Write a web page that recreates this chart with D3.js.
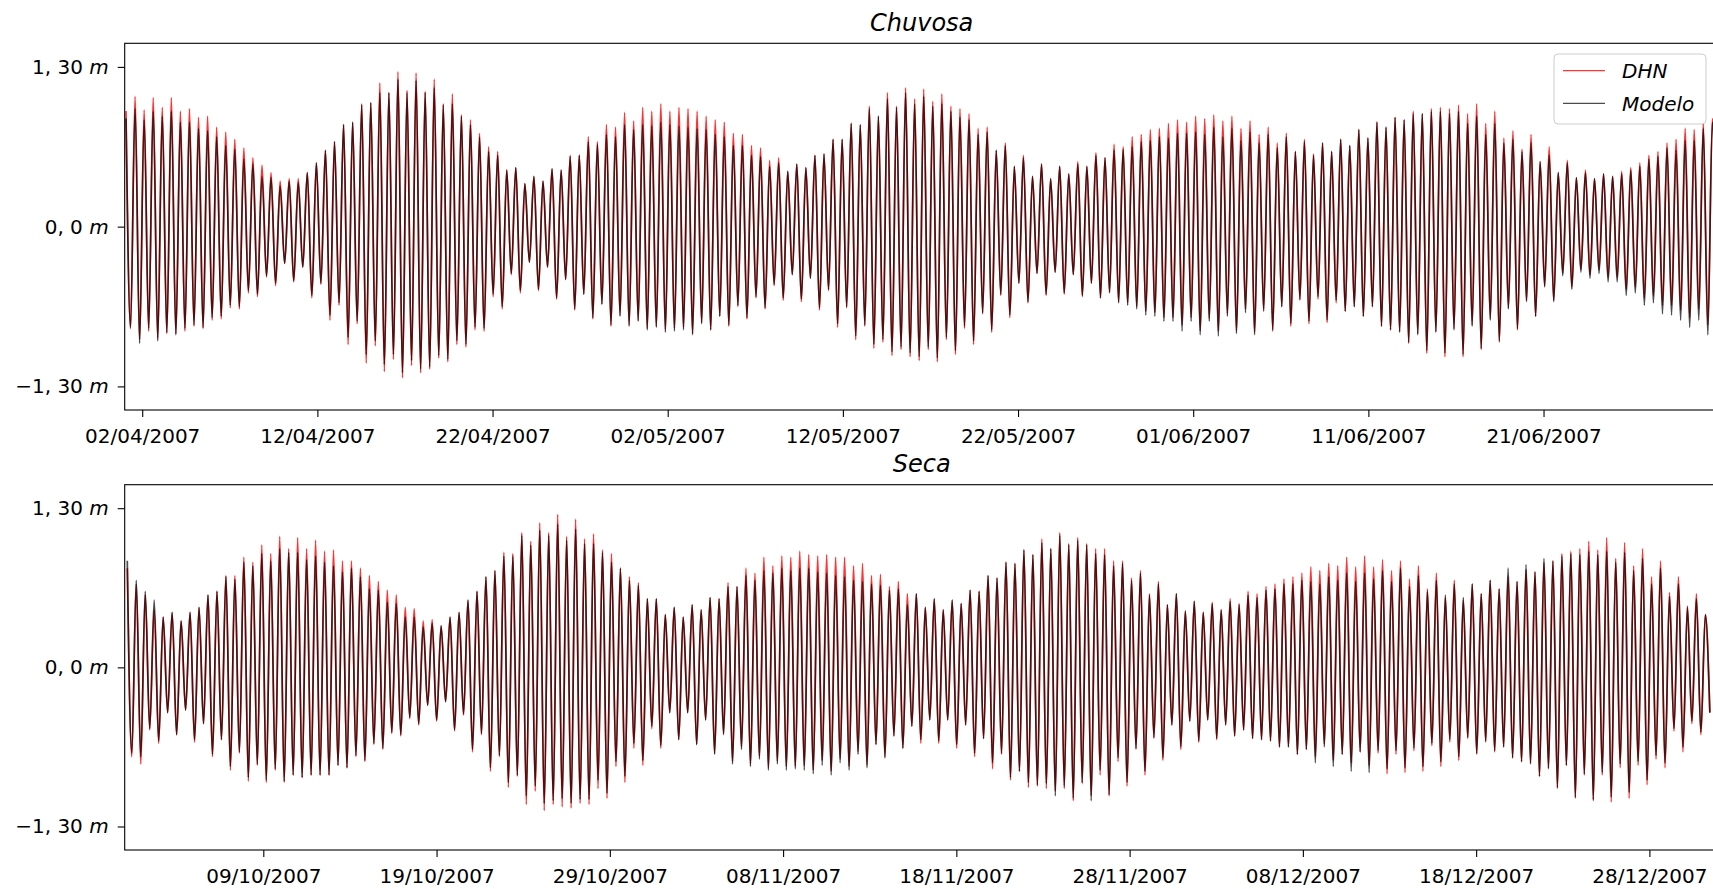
<!DOCTYPE html>
<html>
<head>
<meta charset="utf-8">
<script src="https://cdn.jsdelivr.net/npm/d3@7"></script>
<style>
  body { margin: 0; background: #ffffff; }
  svg { display: block; }
</style>
</head>
<body>
<svg id="chart" width="1713" height="889"></svg>
<script>
// Tidal heights (m): one high and one low water per tidal cycle.
// Chuvosa (rainy season), April–June 2007
const chuvosaHighDHN = [
  0.94,1.06,0.95,1.05,0.97,1.05,0.94,0.96,0.89,0.90,0.81,0.77,0.71,0.64,0.56,0.50,0.44,0.37,0.39,0.39,0.44,0.52,0.62,0.69,0.83,0.85,1.00,1.01,1.17,1.09,1.26,1.11,1.25,1.10,1.20,1.00,1.08,0.91,0.87,0.76,0.65,0.61,0.46,0.48,
  0.35,0.41,0.37,0.47,0.46,0.58,0.58,0.73,0.69,0.83,0.81,0.93,0.86,0.97,0.94,1.00,0.94,0.97,0.96,0.94,0.90,0.87,0.85,0.76,0.75,0.66,0.64,0.54,0.56,0.45,0.51,0.48,0.58,0.59,0.71,0.71,0.84,0.83,0.98,0.90,1.09,0.98,1.13,1.04,
  1.12,1.02,1.08,0.98,0.96,0.92,0.80,0.81,0.62,0.68,0.49,0.58,0.41,0.51,0.39,0.49,0.43,0.53,0.49,0.60,0.56,0.67,0.65,0.73,0.75,0.79,0.80,0.84,0.87,0.85,0.90,0.88,0.91,0.86,0.90,0.80,0.86,0.75,0.81,0.68,0.76,0.61,0.71,
  0.59,0.68,0.61,0.71,0.66,0.79,0.72,0.85,0.81,0.89,0.87,0.94,0.92,0.96,0.97,0.96,0.99,0.92,1.00,0.84,0.94,0.72,0.78,0.63,0.75,0.53,0.65,0.44,0.54,0.40,0.46,0.39,0.43,0.41,0.45,0.48,0.52,0.58,0.61,0.68,0.71,0.80,0.79,0.84,0.88
];
const chuvosaLowDHN = [
  -0.83,-0.92,-0.85,-0.91,-0.87,-0.87,-0.85,-0.81,-0.83,-0.76,-0.75,-0.66,-0.67,-0.54,-0.57,-0.41,-0.48,-0.30,-0.45,-0.33,-0.58,-0.47,-0.76,-0.64,-0.96,-0.79,-1.11,-0.97,-1.18,-1.08,-1.23,-1.13,-1.19,-1.16,-1.07,-1.10,-0.96,-0.98,-0.84,-0.85,-0.57,-0.67,-0.39,-0.54,
  -0.29,-0.52,-0.33,-0.59,-0.43,-0.68,-0.55,-0.75,-0.63,-0.81,-0.72,-0.80,-0.76,-0.83,-0.81,-0.84,-0.83,-0.82,-0.87,-0.78,-0.84,-0.73,-0.81,-0.65,-0.75,-0.58,-0.67,-0.48,-0.60,-0.39,-0.61,-0.42,-0.68,-0.52,-0.82,-0.66,-0.92,-0.81,-0.99,-0.94,-1.05,-1.00,-1.06,
  -1.09,-1.00,-1.10,-0.92,-1.04,-0.83,-0.96,-0.71,-0.86,-0.56,-0.74,-0.46,-0.62,-0.38,-0.56,-0.37,-0.55,-0.39,-0.57,-0.46,-0.58,-0.53,-0.61,-0.62,-0.65,-0.69,-0.70,-0.74,-0.74,-0.80,-0.74,-0.85,-0.75,-0.85,-0.71,-0.85,-0.67,-0.86,-0.67,-0.85,-0.65,-0.81,-0.60,-0.79,
  -0.59,-0.78,-0.62,-0.69,-0.65,-0.73,-0.65,-0.81,-0.84,-0.85,-0.95,-0.87,-1.03,-0.85,-1.06,-0.83,-1.06,-0.80,-1.00,-0.75,-0.94,-0.66,-0.84,-0.60,-0.73,-0.48,-0.60,-0.38,-0.49,-0.35,-0.39,-0.35,-0.41,-0.41,-0.51,-0.49,-0.58,-0.56,-0.64,-0.64,-0.68,-0.74,-0.67,-0.80,-0.45
];
const chuvosaHighModelo = [
  0.88,0.96,0.87,0.94,0.90,0.94,0.85,0.85,0.80,0.78,0.73,0.66,0.63,0.55,0.51,0.41,0.40,0.33,0.37,0.36,0.44,0.52,0.62,0.69,0.83,0.85,0.99,1.01,1.09,1.09,1.20,1.09,1.19,1.09,1.13,0.99,1.00,0.90,0.83,0.73,0.61,0.58,0.46,0.48,
  0.35,0.41,0.37,0.47,0.46,0.57,0.58,0.69,0.67,0.75,0.73,0.83,0.79,0.83,0.82,0.85,0.83,0.82,0.81,0.80,0.79,0.75,0.73,0.66,0.66,0.58,0.57,0.49,0.52,0.45,0.51,0.48,0.58,0.59,0.71,0.71,0.84,0.83,0.96,0.90,1.04,0.97,1.09,1.00,
  1.06,0.98,1.00,0.94,0.89,0.87,0.75,0.77,0.62,0.66,0.49,0.56,0.41,0.51,0.39,0.49,0.43,0.51,0.49,0.58,0.56,0.62,0.63,0.65,0.69,0.70,0.73,0.72,0.76,0.76,0.77,0.75,0.81,0.73,0.80,0.70,0.77,0.68,0.75,0.64,0.73,0.61,0.69,
  0.58,0.68,0.61,0.71,0.66,0.79,0.72,0.85,0.81,0.89,0.87,0.92,0.92,0.94,0.94,0.92,0.94,0.84,0.90,0.75,0.84,0.68,0.71,0.61,0.68,0.53,0.58,0.44,0.52,0.40,0.44,0.39,0.43,0.41,0.43,0.46,0.49,0.55,0.57,0.64,0.62,0.70,0.70,0.80,0.85
];
const chuvosaLowModelo = [
  -0.82,-0.95,-0.83,-0.93,-0.86,-0.88,-0.83,-0.80,-0.82,-0.74,-0.73,-0.64,-0.65,-0.52,-0.55,-0.40,-0.46,-0.30,-0.44,-0.33,-0.56,-0.46,-0.72,-0.62,-0.90,-0.77,-1.04,-0.93,-1.12,-1.04,-1.19,-1.09,-1.16,-1.14,-1.05,-1.08,-0.93,-0.96,-0.82,-0.83,-0.55,-0.65,-0.38,-0.52,
  -0.29,-0.51,-0.33,-0.58,-0.43,-0.67,-0.55,-0.74,-0.63,-0.80,-0.73,-0.81,-0.77,-0.84,-0.82,-0.86,-0.85,-0.84,-0.88,-0.79,-0.84,-0.73,-0.80,-0.64,-0.74,-0.57,-0.66,-0.47,-0.58,-0.39,-0.59,-0.42,-0.66,-0.51,-0.79,-0.65,-0.89,-0.80,-0.96,-0.92,-1.02,-0.98,-1.03,
  -1.06,-0.98,-1.07,-0.90,-1.01,-0.81,-0.93,-0.70,-0.84,-0.55,-0.72,-0.46,-0.61,-0.38,-0.55,-0.37,-0.54,-0.39,-0.56,-0.46,-0.58,-0.54,-0.62,-0.64,-0.67,-0.72,-0.73,-0.77,-0.77,-0.85,-0.77,-0.88,-0.77,-0.89,-0.73,-0.87,-0.70,-0.88,-0.69,-0.84,-0.65,-0.79,-0.59,-0.77,
  -0.57,-0.76,-0.60,-0.69,-0.65,-0.73,-0.65,-0.81,-0.84,-0.86,-0.94,-0.88,-1.01,-0.86,-1.03,-0.84,-1.04,-0.81,-0.99,-0.76,-0.93,-0.67,-0.83,-0.61,-0.73,-0.49,-0.61,-0.40,-0.51,-0.37,-0.42,-0.38,-0.45,-0.45,-0.56,-0.54,-0.64,-0.62,-0.71,-0.72,-0.76,-0.82,-0.76,-0.88,-0.50
];

// Seca (dry season), October–December 2007
const secaHighDHN = [
  0.81,0.68,0.59,0.47,0.41,0.45,0.38,0.45,0.49,0.59,0.62,0.75,0.75,0.90,0.86,1.00,0.93,1.07,0.97,1.06,0.97,1.04,0.95,0.96,0.87,0.87,0.81,0.75,0.70,0.63,0.59,0.49,0.48,0.38,0.39,0.34,0.41,0.45,0.55,0.62,0.74,0.79,0.94,0.93,
  1.10,1.03,1.18,1.10,1.25,1.07,1.21,1.05,1.09,0.96,0.93,0.81,0.74,0.69,0.56,0.56,0.43,0.49,0.41,0.51,0.47,0.57,0.56,0.69,0.66,0.81,0.77,0.90,0.83,0.91,0.90,0.95,0.92,0.91,0.92,0.90,0.90,0.83,0.85,0.75,0.76,0.66,0.70,0.60,
  0.60,0.49,0.56,0.47,0.55,0.52,0.63,0.62,0.75,0.73,0.86,0.85,0.96,0.92,1.05,0.97,1.10,1.01,1.06,1.01,0.97,0.97,0.87,0.87,0.73,0.79,0.60,0.70,0.51,0.60,0.46,0.54,0.45,0.53,0.47,0.56,0.52,0.62,0.60,0.66,0.68,0.72,0.74,0.77,
  0.82,0.79,0.85,0.83,0.90,0.82,0.91,0.82,0.88,0.79,0.87,0.72,0.83,0.64,0.77,0.57,0.71,0.55,0.68,0.60,0.71,0.64,0.74,0.70,0.80,0.78,0.86,0.87,0.93,0.95,0.97,1.03,0.96,1.06,0.89,1.02,0.83,0.97,0.74,0.87,0.61,0.74,0.50,0.60,0.43
];
const secaLowDHN = [
  -0.73,-0.79,-0.51,-0.62,-0.37,-0.55,-0.35,-0.61,-0.46,-0.73,-0.59,-0.84,-0.70,-0.93,-0.80,-0.94,-0.84,-0.94,-0.88,-0.90,-0.88,-0.88,-0.88,-0.80,-0.82,-0.73,-0.77,-0.63,-0.67,-0.54,-0.56,-0.42,-0.47,-0.31,-0.44,-0.28,-0.52,-0.39,-0.69,-0.55,-0.85,-0.73,-0.98,-0.89,
  -1.12,-1.01,-1.17,-1.12,-1.14,-1.15,-1.11,-1.12,-0.99,-1.07,-0.81,-0.94,-0.66,-0.80,-0.50,-0.66,-0.37,-0.59,-0.37,-0.63,-0.43,-0.70,-0.54,-0.77,-0.65,-0.79,-0.73,-0.82,-0.77,-0.81,-0.81,-0.80,-0.84,-0.76,-0.85,-0.75,-0.81,-0.69,-0.80,-0.63,-0.73,-0.56,-0.66,-0.48,
  -0.62,-0.43,-0.62,-0.43,-0.66,-0.47,-0.73,-0.58,-0.83,-0.71,-0.92,-0.85,-0.98,-0.97,-0.99,-1.01,-0.99,-1.09,-0.95,-1.05,-0.88,-1.05,-0.77,-0.97,-0.67,-0.88,-0.58,-0.76,-0.47,-0.67,-0.44,-0.61,-0.43,-0.59,-0.47,-0.56,-0.51,-0.58,-0.59,-0.60,-0.65,-0.65,-0.71,-0.67,
  -0.73,-0.63,-0.76,-0.71,-0.78,-0.69,-0.80,-0.70,-0.87,-0.71,-0.86,-0.68,-0.85,-0.64,-0.81,-0.61,-0.76,-0.58,-0.71,-0.61,-0.69,-0.65,-0.74,-0.77,-0.78,-0.89,-0.82,-0.99,-0.80,-1.07,-0.88,-1.09,-0.88,-1.10,-0.82,-1.07,-0.80,-0.96,-0.75,-0.82,-0.52,-0.69,-0.46,-0.55,-0.37
];
const secaHighModelo = [
  0.87,0.71,0.62,0.55,0.41,0.45,0.38,0.45,0.49,0.59,0.62,0.74,0.72,0.86,0.83,0.93,0.87,0.97,0.94,0.94,0.88,0.91,0.86,0.83,0.78,0.81,0.74,0.64,0.63,0.53,0.52,0.41,0.41,0.33,0.36,0.34,0.41,0.45,0.55,0.62,0.74,0.79,0.91,0.91,
  1.08,1.00,1.12,1.08,1.17,1.04,1.13,1.01,1.01,0.94,0.86,0.81,0.71,0.67,0.56,0.56,0.43,0.49,0.41,0.51,0.47,0.57,0.56,0.66,0.66,0.75,0.71,0.79,0.77,0.81,0.79,0.81,0.81,0.78,0.77,0.75,0.74,0.71,0.70,0.68,0.67,0.63,0.64,0.51,
  0.60,0.49,0.56,0.47,0.55,0.52,0.63,0.62,0.75,0.73,0.86,0.85,0.96,0.92,1.02,0.97,1.08,1.00,1.04,1.00,0.93,0.92,0.83,0.85,0.71,0.77,0.59,0.68,0.51,0.60,0.46,0.54,0.45,0.52,0.47,0.54,0.51,0.59,0.57,0.63,0.64,0.68,0.68,0.71,
  0.70,0.68,0.74,0.71,0.77,0.70,0.77,0.72,0.79,0.70,0.81,0.66,0.75,0.62,0.71,0.59,0.68,0.57,0.68,0.60,0.71,0.64,0.81,0.70,0.84,0.78,0.89,0.87,0.91,0.93,0.92,0.95,0.92,0.95,0.86,0.94,0.79,0.89,0.68,0.81,0.58,0.68,0.49,0.56,0.43
];
const secaLowModelo = [
  -0.70,-0.73,-0.50,-0.60,-0.37,-0.55,-0.35,-0.59,-0.46,-0.71,-0.59,-0.81,-0.69,-0.90,-0.79,-0.92,-0.83,-0.93,-0.88,-0.90,-0.88,-0.88,-0.88,-0.80,-0.82,-0.72,-0.76,-0.62,-0.66,-0.53,-0.55,-0.41,-0.46,-0.31,-0.43,-0.28,-0.51,-0.38,-0.67,-0.54,-0.82,-0.72,-0.94,-0.88,
  -1.05,-0.97,-1.11,-1.09,-1.07,-1.11,-1.08,-1.08,-0.92,-1.03,-0.77,-0.89,-0.62,-0.76,-0.48,-0.64,-0.37,-0.59,-0.37,-0.63,-0.43,-0.71,-0.55,-0.79,-0.67,-0.81,-0.75,-0.84,-0.79,-0.84,-0.83,-0.84,-0.87,-0.80,-0.88,-0.78,-0.84,-0.71,-0.82,-0.63,-0.74,-0.56,-0.66,-0.48,
  -0.59,-0.43,-0.60,-0.43,-0.63,-0.47,-0.70,-0.58,-0.78,-0.70,-0.90,-0.85,-0.94,-0.96,-0.95,-1.05,-0.97,-1.07,-0.94,-1.09,-0.84,-1.04,-0.74,-0.94,-0.66,-0.85,-0.57,-0.74,-0.47,-0.65,-0.44,-0.60,-0.43,-0.58,-0.47,-0.56,-0.51,-0.58,-0.59,-0.60,-0.65,-0.65,-0.71,-0.67,
  -0.78,-0.65,-0.81,-0.71,-0.85,-0.69,-0.86,-0.68,-0.83,-0.68,-0.82,-0.66,-0.81,-0.62,-0.77,-0.59,-0.73,-0.57,-0.70,-0.60,-0.68,-0.65,-0.74,-0.77,-0.79,-0.89,-0.83,-0.98,-0.80,-1.06,-0.87,-1.08,-0.86,-1.06,-0.79,-1.02,-0.77,-0.92,-0.72,-0.78,-0.50,-0.65,-0.44,-0.53,-0.37
];

// Sampling: successive high waters are one semidiurnal cycle apart, lows fall between them
const tidePeriodHours = 12.42;
const chuvosaFirstHigh = "2007-04-01 01:48";
const secaFirstHigh = "2007-10-01 03:36";
const chuvosaRange = ["2007-04-01 00:00", "2007-07-01 00:00"];
const secaRange = ["2007-10-01 00:00", "2008-01-01 00:00"];

// Axis ticks
const chuvosaTicks = ["02/04/2007","12/04/2007","22/04/2007","02/05/2007","12/05/2007","22/05/2007","01/06/2007","11/06/2007","21/06/2007"];
const secaTicks = ["09/10/2007","19/10/2007","29/10/2007","08/11/2007","18/11/2007","28/11/2007","08/12/2007","18/12/2007","28/12/2007"];
const yTicks = [1.30, 0.0, -1.30];
const yTickLabels = ["1, 30", "0, 0", "\u22121, 30"];

const seriesNames = ["DHN", "Modelo"];
const seriesColors = ["#ff0000", "#000000"];
const seriesOpacity = [0.8, 0.7];

// ---------------------------------------------------------------
const svg = d3.select("#chart");
const FONT = "DejaVu Sans, Verdana, sans-serif";
const parseStamp = d3.timeParse("%Y-%m-%d %H:%M");
const parseTick = d3.timeParse("%d/%m/%Y");
const fmtTick = d3.timeFormat("%d/%m/%Y");

const plotLeft = 124.7, plotWidth = 1594;

const panels = [
  { title: "Chuvosa", top: 43.3, bottom: 410, range: chuvosaRange, first: chuvosaFirstHigh, ticks: chuvosaTicks,
    dhn: [chuvosaHighDHN, chuvosaLowDHN], modelo: [chuvosaHighModelo, chuvosaLowModelo], legend: true },
  { title: "Seca", top: 484.7, bottom: 850, range: secaRange, first: secaFirstHigh, ticks: secaTicks,
    dhn: [secaHighDHN, secaLowDHN], modelo: [secaHighModelo, secaLowModelo], legend: false }
];

function tideSeries(firstHigh, highs, lows) {
  const t0 = parseStamp(firstHigh).getTime();
  const p = tidePeriodHours * 3600e3;
  const pts = [];
  highs.forEach((h, k) => {
    pts.push([new Date(t0 + k * p), h]);
    if (k < lows.length) pts.push([new Date(t0 + k * p + p / 2), lows[k]]);
  });
  return pts;
}

panels.forEach((pn, i) => {
  const x = d3.scaleTime()
    .domain(pn.range.map(parseStamp))
    .range([plotLeft, plotLeft + plotWidth]);
  const y = d3.scaleLinear().domain([-1.492, 1.492]).range([pn.bottom, pn.top]);

  const clipId = "clip" + i;
  svg.append("clipPath").attr("id", clipId)
    .append("rect").attr("x", plotLeft).attr("y", pn.top)
    .attr("width", plotWidth).attr("height", pn.bottom - pn.top);

  const line = d3.line().x(d => x(d[0])).y(d => y(d[1])).curve(d3.curveMonotoneX);
  const g = svg.append("g").attr("clip-path", `url(#${clipId})`);
  [pn.dhn, pn.modelo].forEach((s, si) => {
    g.append("path")
      .datum(tideSeries(pn.first, s[0], s[1]))
      .attr("d", line)
      .attr("fill", "none")
      .attr("stroke", seriesColors[si])
      .attr("stroke-opacity", seriesOpacity[si])
      .attr("stroke-width", 1.7)
      .attr("stroke-linejoin", "round");
  });

  // x axis
  const xAxis = svg.append("g")
    .attr("transform", `translate(0,${pn.bottom})`)
    .call(d3.axisBottom(x)
      .tickValues(pn.ticks.map(parseTick))
      .tickFormat(fmtTick)
      .tickSize(7).tickPadding(11.5).tickSizeOuter(0));
  xAxis.select(".domain").remove();
  xAxis.selectAll("line").attr("stroke", "#000").attr("stroke-width", 1.1);
  xAxis.selectAll("text").attr("font-family", FONT).attr("font-size", 20).attr("fill", "#000");

  // y axis
  const yAxis = svg.append("g")
    .attr("transform", `translate(${plotLeft},0)`)
    .call(d3.axisLeft(y).tickValues(yTicks).tickSize(7).tickPadding(9).tickSizeOuter(0));
  yAxis.select(".domain").remove();
  yAxis.selectAll("line").attr("stroke", "#000").attr("stroke-width", 1.1);
  yAxis.selectAll("text")
    .attr("font-family", FONT).attr("font-size", 20).attr("fill", "#000")
    .text(null)
    .each(function (d, j) {
      const t = d3.select(this);
      t.append("tspan").text(yTickLabels[j] + " ");
      t.append("tspan").attr("font-style", "italic").text("m");
    });

  // frame
  svg.append("rect")
    .attr("x", plotLeft).attr("y", pn.top)
    .attr("width", plotWidth).attr("height", pn.bottom - pn.top)
    .attr("fill", "none").attr("stroke", "#000").attr("stroke-width", 1.1);

  // title
  svg.append("text")
    .attr("x", plotLeft + plotWidth / 2).attr("y", pn.top - 12.5)
    .attr("text-anchor", "middle")
    .attr("font-family", FONT).attr("font-style", "italic").attr("font-size", 24)
    .attr("fill", "#000")
    .text(pn.title);

  if (pn.legend) {
    const lg = svg.append("g");
    lg.append("rect")
      .attr("x", 1554).attr("y", 54).attr("width", 152).attr("height", 70)
      .attr("rx", 4).attr("fill", "#fff").attr("fill-opacity", 0.8)
      .attr("stroke", "#cccccc").attr("stroke-width", 1);
    seriesNames.forEach((name, si) => {
      const ly = 70.7 + si * 32.6;
      lg.append("line")
        .attr("x1", 1563).attr("x2", 1605).attr("y1", ly).attr("y2", ly)
        .attr("stroke", seriesColors[si])
        .attr("stroke-opacity", seriesOpacity[si])
        .attr("stroke-width", 1.3);
      lg.append("text")
        .attr("x", 1622).attr("y", ly + 7.2)
        .attr("font-family", FONT).attr("font-style", "italic").attr("font-size", 20)
        .attr("fill", "#000")
        .text(name);
    });
  }
});
</script>
</body>
</html>
